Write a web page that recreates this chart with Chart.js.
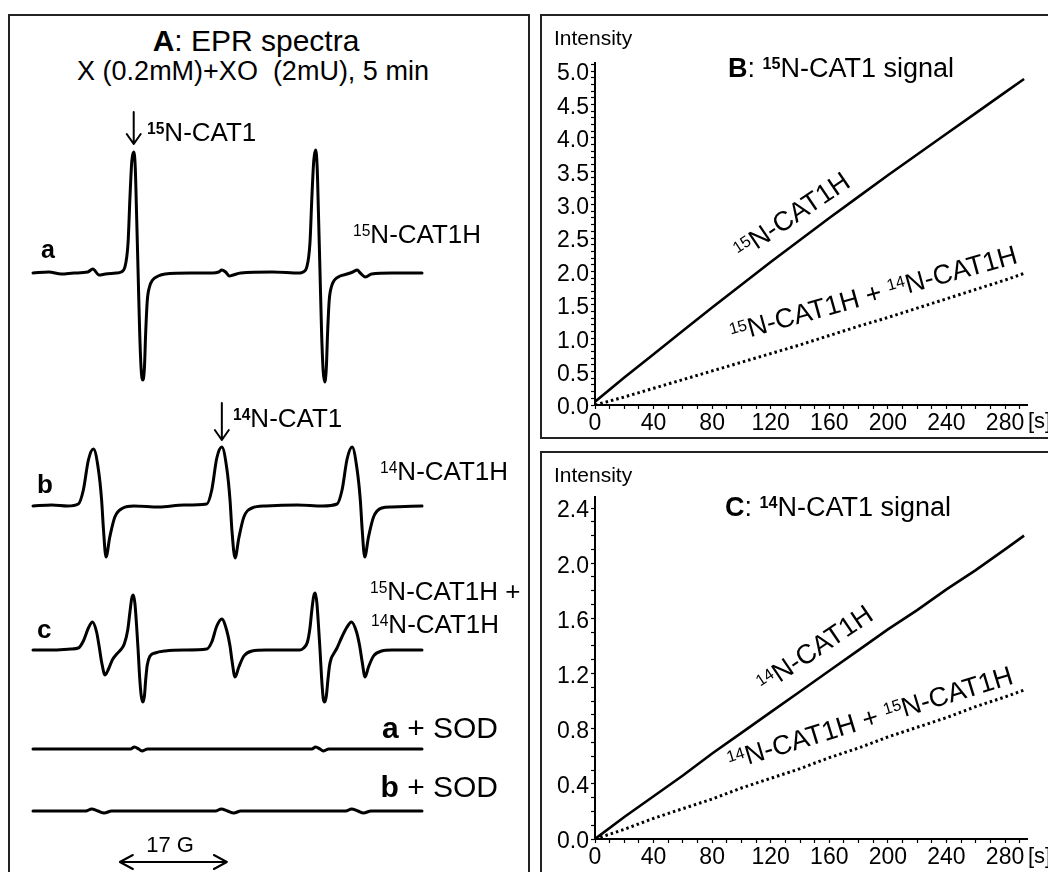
<!DOCTYPE html>
<html><head><meta charset="utf-8">
<script src="https://cdn.jsdelivr.net/npm/chart.js@4.4.0/dist/chart.umd.min.js"></script>
<style>
html,body{margin:0;padding:0;background:#fff;width:1048px;height:872px;overflow:hidden;}
body{position:relative;font-family:"Liberation Sans",Arial,sans-serif;color:#000;}
.box{position:absolute;border:2px solid #222;box-sizing:border-box;}
canvas{position:absolute;}
.t{position:absolute;line-height:1;white-space:nowrap;}
.s{font-size:0.6em;vertical-align:0.48em;line-height:0;}
.r{transform-origin:0 0.8465em;}
</style></head><body>
<div class="box" style="left:8px;top:14px;width:522px;height:900px"></div>
<div class="box" style="left:540px;top:14px;width:520px;height:425px"></div>
<div class="box" style="left:540px;top:451px;width:520px;height:450px"></div>

<canvas id="spA" width="409" height="340" style="left:23px;top:103px"></canvas>
<canvas id="spB" width="409" height="340" style="left:23px;top:336px"></canvas>
<canvas id="spC" width="409" height="340" style="left:23px;top:480px"></canvas>
<canvas id="spASOD" width="409" height="340" style="left:23px;top:579px"></canvas>
<canvas id="spBSOD" width="409" height="340" style="left:23px;top:641px"></canvas>
<canvas id="kinB" width="507" height="423" style="left:541px;top:15px"></canvas>
<canvas id="kinC" width="507" height="420" style="left:541px;top:452px"></canvas>

<!-- Panel A texts -->
<div class="t" style="left:256px;top:26px;font-size:30px;transform:translateX(-50%)"><b>A</b>: EPR spectra</div>
<div class="t" style="left:253px;top:58px;font-size:27px;transform:translateX(-50%)">X (0.2mM)+XO&nbsp; (2mU), 5 min</div>
<div class="t" style="left:147px;top:119px;font-size:26px"><b class="s">15</b>N-CAT1</div>
<div class="t" style="left:41px;top:237px;font-size:25px;font-weight:bold">a</div>
<div class="t" style="left:353px;top:221px;font-size:26px"><span class="s">15</span>N-CAT1H</div>
<div class="t" style="left:233px;top:405px;font-size:26px"><b class="s">14</b>N-CAT1</div>
<div class="t" style="left:37px;top:471px;font-size:26px;font-weight:bold">b</div>
<div class="t" style="left:380px;top:458px;font-size:26px"><span class="s">14</span>N-CAT1H</div>
<div class="t" style="left:370px;top:578px;font-size:26px"><span class="s">15</span>N-CAT1H +</div>
<div class="t" style="left:371px;top:611px;font-size:26px"><span class="s">14</span>N-CAT1H</div>
<div class="t" style="left:37px;top:616px;font-size:26px;font-weight:bold">c</div>
<div class="t" style="left:498px;top:713px;font-size:30px;transform:translateX(-100%)"><b>a</b> + SOD</div>
<div class="t" style="left:498px;top:772px;font-size:30px;transform:translateX(-100%)"><b>b</b> + SOD</div>
<div class="t" style="left:170px;top:834px;font-size:22px;transform:translateX(-50%)">17 G</div>

<!-- Panel B texts -->
<div class="t" style="left:554px;top:27px;font-size:21px">Intensity</div>
<div class="t" style="left:728px;top:55px;font-size:27px"><b>B</b>: <b class="s">15</b>N-CAT1 signal</div>
<div class="t" style="left:1028px;top:410px;font-size:22px">[s]</div>
<div class="t r" style="left:742px;top:238px;font-size:27px;transform:rotate(-34deg)"><span class="s">15</span>N-CAT1H</div>
<div class="t r" style="left:733px;top:320px;font-size:27px;transform:rotate(-15.5deg)"><span class="s">15</span>N-CAT1H + <span class="s">14</span>N-CAT1H</div>

<!-- Panel C texts -->
<div class="t" style="left:554px;top:464px;font-size:21px">Intensity</div>
<div class="t" style="left:725px;top:494px;font-size:27px"><b>C</b>: <b class="s">14</b>N-CAT1 signal</div>
<div class="t" style="left:1028px;top:845px;font-size:22px">[s]</div>
<div class="t r" style="left:765px;top:671px;font-size:27px;transform:rotate(-34deg)"><span class="s">14</span>N-CAT1H</div>
<div class="t r" style="left:731px;top:748px;font-size:27px;transform:rotate(-17deg)"><span class="s">14</span>N-CAT1H + <span class="s">15</span>N-CAT1H</div>

<script>
// ---------- Panel A: EPR spectra, [field offset (G), amplitude (a.u.)] ----------
const spectrumA_15N = [[0,0],[2.5,1],[4.5,-1],[6.5,0],[8.7,1],[9.5,4],[10.5,-2],[11.5,-1],[13.2,0],
 [14.0,1],[14.6,6],[15.1,30],[15.4,75],[15.7,112],[16.0,121],[16.25,105],[16.45,60],[16.7,0],[16.95,-60],[17.2,-98],[17.45,-107],[17.7,-95],[17.9,-60],[18.15,-28],[18.5,-14],[19.0,-7],[19.9,-3],[21.0,-1],
 [25.0,0],[28.5,0],[29.5,1],[30.0,3],[30.6,1],[31.2,-3],[31.8,-2],[33.0,0],
 [38.0,1],[42.4,0],[42.9,1],[43.5,6],[44.0,30],[44.3,75],[44.6,112],[44.9,123],[45.15,105],[45.35,60],[45.6,0],[45.85,-60],[46.1,-98],[46.35,-109],[46.6,-95],[46.8,-60],[47.05,-28],[47.4,-14],[47.9,-7],[48.8,-3],[49.9,-1],
 [50.8,1],[51.5,3],[52.0,0],[52.8,-4],[53.8,-1],[57.0,0],[61.8,0]];
const spectrumB_14N = [[0,0],[3,1],[5.5,0],[7.2,2],[8.0,16],[8.8,46],[9.6,57],[10.4,36],[10.9,6],[11.2,-24],[11.6,-51],[12.2,-31],[13.0,-11],[14.3,-2],[16.0,0],[20.0,-1],[24.0,1],
 [27.6,2],[28.4,16],[29.2,48],[30.0,59],[30.8,37],[31.3,6],[31.6,-24],[32.1,-52],[32.7,-32],[33.5,-11],[34.8,-2],[37.0,0],[42.0,1],[46.0,0],
 [48.3,2],[49.1,16],[49.9,47],[50.7,59],[51.5,36],[52.0,6],[52.3,-24],[52.7,-51],[53.3,-31],[54.1,-11],[55.4,-2],[57.0,-1],[61.8,0]];
const spectrumC_mix = [[0,0],[3,0],[6,1],[7.2,2],[8.0,9],[8.8,22],[9.45,28],[10.1,18],[10.5,4],[10.9,-12],[11.45,-25],[12.0,-19],[12.6,-10],[13.3,-4],
 [13.9,0],[14.5,6],[15.05,20],[15.4,38],[15.7,52],[15.95,55],[16.2,46],[16.45,25],[16.7,0],[16.95,-28],[17.2,-46],[17.45,-52],[17.7,-46],[17.9,-30],[18.15,-15],[18.6,-6],[19.4,-3],[21.0,-1],[24.0,0],
 [27.6,1],[28.4,8],[29.2,24],[30.0,31],[30.8,19],[31.3,4],[31.6,-10],[32.1,-27],[32.7,-17],[33.5,-6],[34.8,-1],[37.0,0],[40.0,0],
 [42.4,0],[43.0,2],[43.6,8],[44.0,22],[44.3,40],[44.6,54],[44.85,57],[45.1,47],[45.35,25],[45.6,0],[45.85,-28],[46.1,-48],[46.35,-52],[46.6,-46],[46.85,-30],[47.1,-16],[47.4,-8],[47.75,-4],
 [48.3,2],[49.0,12],[49.8,22],[50.6,28],[51.4,18],[51.9,4],[52.3,-12],[52.75,-27],[53.3,-17],[54.1,-6],[55.4,-1],[57.0,0],[61.8,0]];
const spectrumA_SOD = [[0,0],[10,0],[15.5,0],[16.1,2],[16.8,0],[17.3,-2],[18.2,0],[30,0],[44.3,0],[44.9,2],[45.6,0],[46.1,-2],[47.0,0],[61.8,0]];
const spectrumB_SOD = [[0,0],[8.4,0],[9.3,2],[10.3,0],[11.3,-2],[12.5,0],[29.0,0],[29.9,2],[30.9,0],[31.9,-2],[33.0,0],[49.7,0],[50.6,2],[51.6,0],[52.5,-2],[53.7,0],[61.8,0]];
const fieldRange = [0, 61.8];
const scaleBarG = 17;

// ---------- Panels B & C: kinetics ----------
const timeS = [0,20,40,60,80,100,120,140,160,180,200,220,240,260,280,293];
const b15N_single = [0.05,0.41,0.76,1.11,1.46,1.80,2.14,2.47,2.80,3.12,3.44,3.75,4.06,4.37,4.68,4.88];
const b15N_mixed  = [0.00,0.12,0.25,0.38,0.51,0.64,0.77,0.90,1.04,1.18,1.31,1.45,1.59,1.73,1.87,1.97];
const c14N_single = [0.00,0.16,0.31,0.46,0.62,0.77,0.92,1.07,1.22,1.37,1.52,1.66,1.81,1.95,2.10,2.20];
const c14N_mixed  = [0.00,0.07,0.15,0.22,0.29,0.37,0.44,0.51,0.59,0.66,0.74,0.81,0.88,0.96,1.03,1.08];
const xTickLabels = [0,40,80,120,160,200,240,280];
const bYTickLabels = ['0.0','0.5','1.0','1.5','2.0','2.5','3.0','3.5','4.0','4.5','5.0'];
const cYTickLabels = ['0.0','0.4','0.8','1.2','1.6','2.0','2.4'];

const FONT = '"Liberation Sans", Arial, sans-serif';

const arrowPlugin = {
  id: 'arrows',
  afterDatasetsDraw(chart, args, opts) {
    const items = (opts && opts.items) || [];
    const ctx = chart.ctx, xs = chart.scales.x, ys = chart.scales.y;
    ctx.save();
    ctx.strokeStyle = '#000'; ctx.lineWidth = 2; ctx.lineCap = 'round'; ctx.lineJoin = 'round';
    for (const a of items) {
      if (a.kind === 'down') {
        const x = xs.getPixelForValue(a.x), y1 = ys.getPixelForValue(a.from), y2 = ys.getPixelForValue(a.to);
        ctx.beginPath(); ctx.moveTo(x, y1); ctx.lineTo(x, y2);
        ctx.moveTo(x - 7, y2 - 10); ctx.lineTo(x, y2); ctx.lineTo(x + 7, y2 - 10); ctx.stroke();
      } else if (a.kind === 'span') {
        const x1 = xs.getPixelForValue(a.x1), x2 = xs.getPixelForValue(a.x2), y = ys.getPixelForValue(a.y);
        ctx.beginPath(); ctx.moveTo(x1, y); ctx.lineTo(x2, y);
        ctx.moveTo(x1 + 13, y - 7); ctx.lineTo(x1, y); ctx.lineTo(x1 + 13, y + 7);
        ctx.moveTo(x2 - 13, y - 7); ctx.lineTo(x2, y); ctx.lineTo(x2 - 13, y + 7);
        ctx.stroke();
      }
    }
    ctx.restore();
  }
};

function spectrumChart(id, pts, arrows) {
  new Chart(document.getElementById(id), {
    type: 'line',
    data: { datasets: [{ data: pts.map(p => ({ x: p[0], y: p[1] })), borderColor: '#000', borderWidth: 3,
      pointRadius: 0, cubicInterpolationMode: 'monotone', borderJoinStyle: 'round', borderCapStyle: 'round', clip: false }] },
    options: {
      responsive: false, animation: false, events: [],
      layout: { padding: { left: 10, right: 10, top: 0, bottom: 0 } },
      plugins: { legend: { display: false }, tooltip: { enabled: false }, arrows: { items: arrows || [] } },
      scales: {
        x: { type: 'linear', display: false, min: fieldRange[0], max: fieldRange[1] },
        y: { type: 'linear', display: false, min: -170, max: 170 }
      }
    },
    plugins: [arrowPlugin]
  });
}

spectrumChart('spA', spectrumA_15N, [{ kind: 'down', x: 16.0, from: 161, to: 129 }]);
spectrumChart('spB', spectrumB_14N, [{ kind: 'down', x: 30.0, from: 103, to: 66 }]);
spectrumChart('spC', spectrumC_mix);
spectrumChart('spASOD', spectrumA_SOD);
spectrumChart('spBSOD', spectrumB_SOD, [{ kind: 'span', x1: 13.8, x2: 13.8 + scaleBarG, y: -51 }]);

function kineticChart(id, solid, dotted, yMax, yLabels, yMajorTenths, topPad) {
  const yMinor = [];
  for (let k = 0; k <= Math.floor(yMax * 10 + 1e-6); k++) yMinor.push(k / 10);
  const xMinor = [];
  for (let v = 0; v <= 290; v += 10) xMinor.push(v);
  new Chart(document.getElementById(id), {
    type: 'line',
    data: { datasets: [
      { data: timeS.map((t, i) => ({ x: t, y: solid[i] })), borderColor: '#000', borderWidth: 2.6, pointRadius: 0, tension: 0 },
      { data: timeS.map((t, i) => ({ x: t, y: dotted[i] })), borderColor: '#000', borderWidth: 3, borderDash: [2.5, 3], borderCapStyle: 'butt', pointRadius: 0, tension: 0 }
    ] },
    options: {
      responsive: false, animation: false, events: [],
      layout: { padding: { left: 0, right: 21, top: topPad, bottom: 0 } },
      plugins: { legend: { display: false }, tooltip: { enabled: false } },
      scales: {
        x: {
          type: 'linear', min: 0, max: 295,
          afterBuildTicks: s => { s.ticks = xMinor.map(v => ({ value: v })); },
          afterFit: s => { s.height = 33; },
          ticks: { autoSkip: false, maxRotation: 0, padding: 1, color: '#000', font: { family: FONT, size: 23 },
            callback: v => xTickLabels.includes(v) ? String(v) : '' },
          grid: { display: true, drawOnChartArea: false, drawTicks: true, tickLength: 4, tickColor: '#000', tickWidth: 1.2 },
          border: { display: true, color: '#000', width: 2 }
        },
        y: {
          type: 'linear', min: 0, max: yMax,
          afterBuildTicks: s => { s.ticks = yMinor.map(v => ({ value: v })); },
          afterFit: s => { s.width = 54; },
          ticks: { autoSkip: false, padding: 2, labelOffset: 3, color: '#000', font: { family: FONT, size: 23 },
            callback: v => { const k = Math.round(v * 10); return k % yMajorTenths === 0 ? yLabels[k / yMajorTenths] : ''; } },
          grid: { display: true, drawOnChartArea: false, drawTicks: true, tickLength: 4, tickColor: '#000', tickWidth: 1.2 },
          border: { display: true, color: '#000', width: 2 }
        }
      }
    }
  });
}

kineticChart('kinB', b15N_single, b15N_mixed, 5.12, bYTickLabels, 5, 48);
kineticChart('kinC', c14N_single, c14N_mixed, 2.48, cYTickLabels, 4, 45);
</script>
</body></html>
